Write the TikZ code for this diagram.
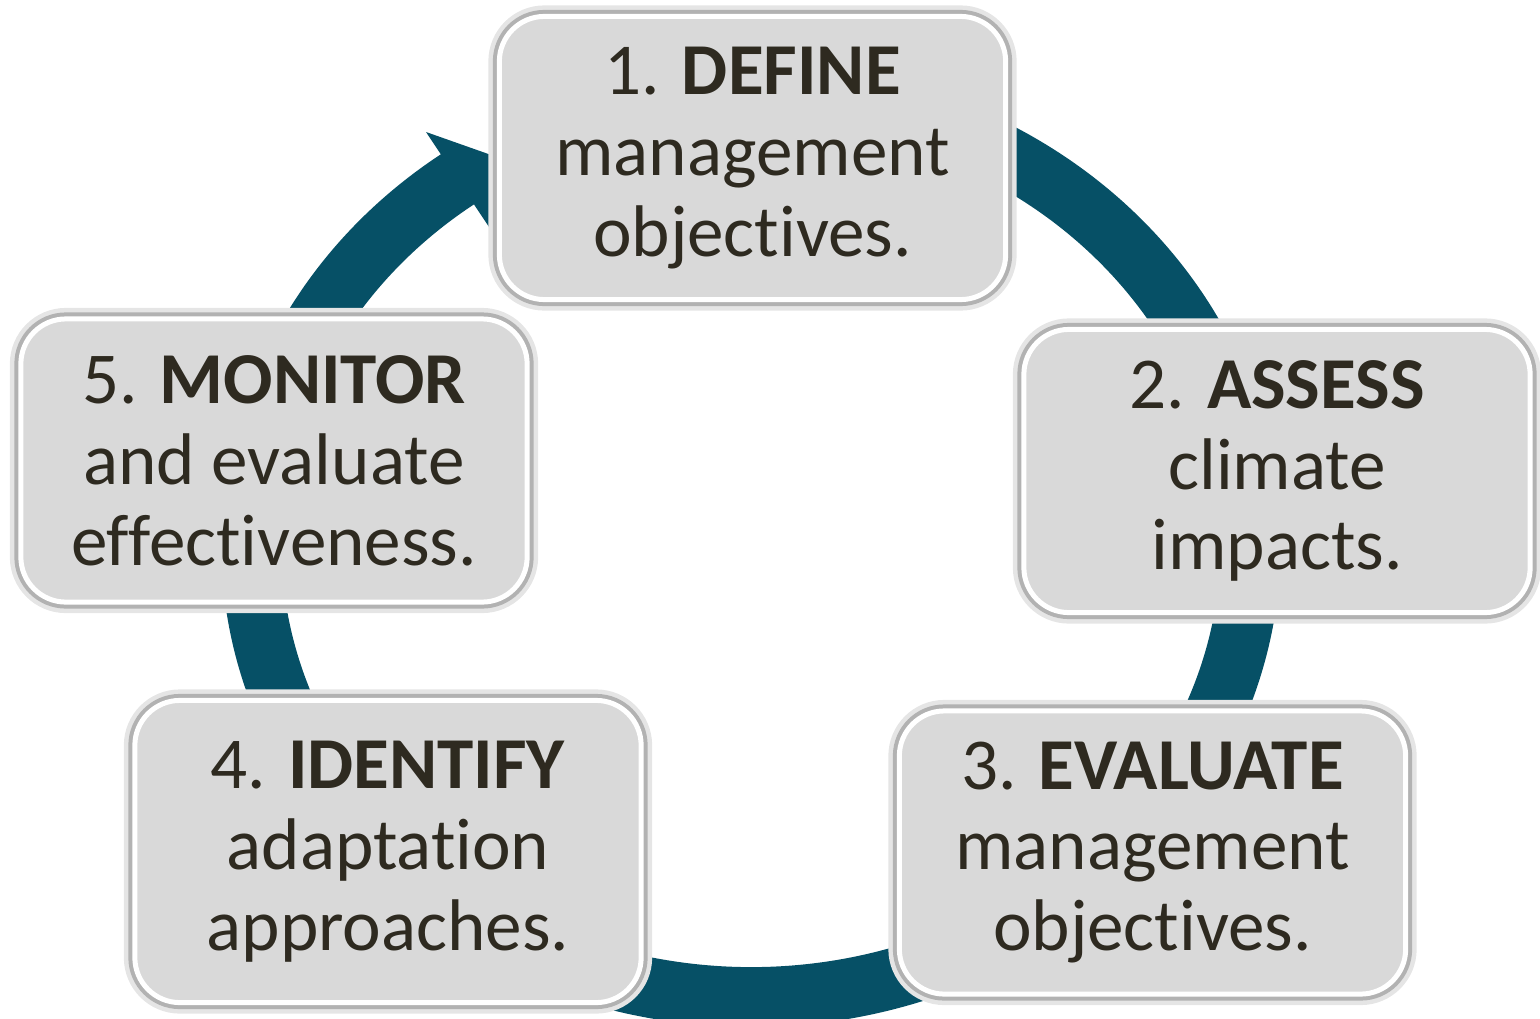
\documentclass[tikz,border=0pt]{standalone}
\usepackage{fontspec}
\setmainfont{Carlito}[Ligatures=NoCommon]
\usetikzlibrary{calc}
\definecolor{ringblue}{RGB}{6,80,102}
\definecolor{boxgray}{RGB}{217,217,217}
\definecolor{inkdark}{RGB}{46,42,32}

\begin{document}
\begin{tikzpicture}[x=0.01cm, y=-0.01cm,
    stepbox/.style={rounded corners=0.45cm, fill=boxgray, draw=white, line width=0.05cm,
        minimum width=5.06cm, minimum height=2.83cm, inner sep=0pt, align=center,
        text=inkdark, font=\fontsize{20.8pt}{23pt}\selectfont,
        preaction={draw=black!10, line width=0.22cm},
        preaction={draw=black!30, line width=0.13cm}}]
    \useasboundingbox (0,0) rectangle (1540,1018);

    % --- Cycle ring (ellipse), runs clockwise behind the boxes ---
    \coordinate (ctr) at (751,545);
    \draw[ringblue, line width=0.6cm] (ctr) ++(-75:499.5 and 452)
        arc[start angle=-75, end angle=235, x radius=499.5, y radius=452];

    % --- Arrow head, tip just under box 1 ---
    \coordinate (headL) at (426,132);
    \coordinate (headR) at (489,227);
    \coordinate (headT) at (494,156);
    \fill[ringblue] (headL) -- (headT) -- (headR) -- cycle;

    % --- Steps ---
    \node[stepbox] (define) at (752.5,158) {1. \textbf{DEFINE}\\management\\objectives.};
    \node[stepbox] (assess) at (1277,471) {2. \textbf{ASSESS}\\climate\\impacts.};
    \node[stepbox] (evaluate) at (1152.5,852.5) {3. \textbf{EVALUATE}\\management\\objectives.};
    \node[stepbox, minimum height=3.02cm] (identify) at (388,851.5) {4. \textbf{IDENTIFY}\\adaptation\\approaches.};
    \node[stepbox] (monitor) at (274,460.5) {5. \textbf{MONITOR}\\and evaluate\\effectiveness.};
\end{tikzpicture}
\end{document}
